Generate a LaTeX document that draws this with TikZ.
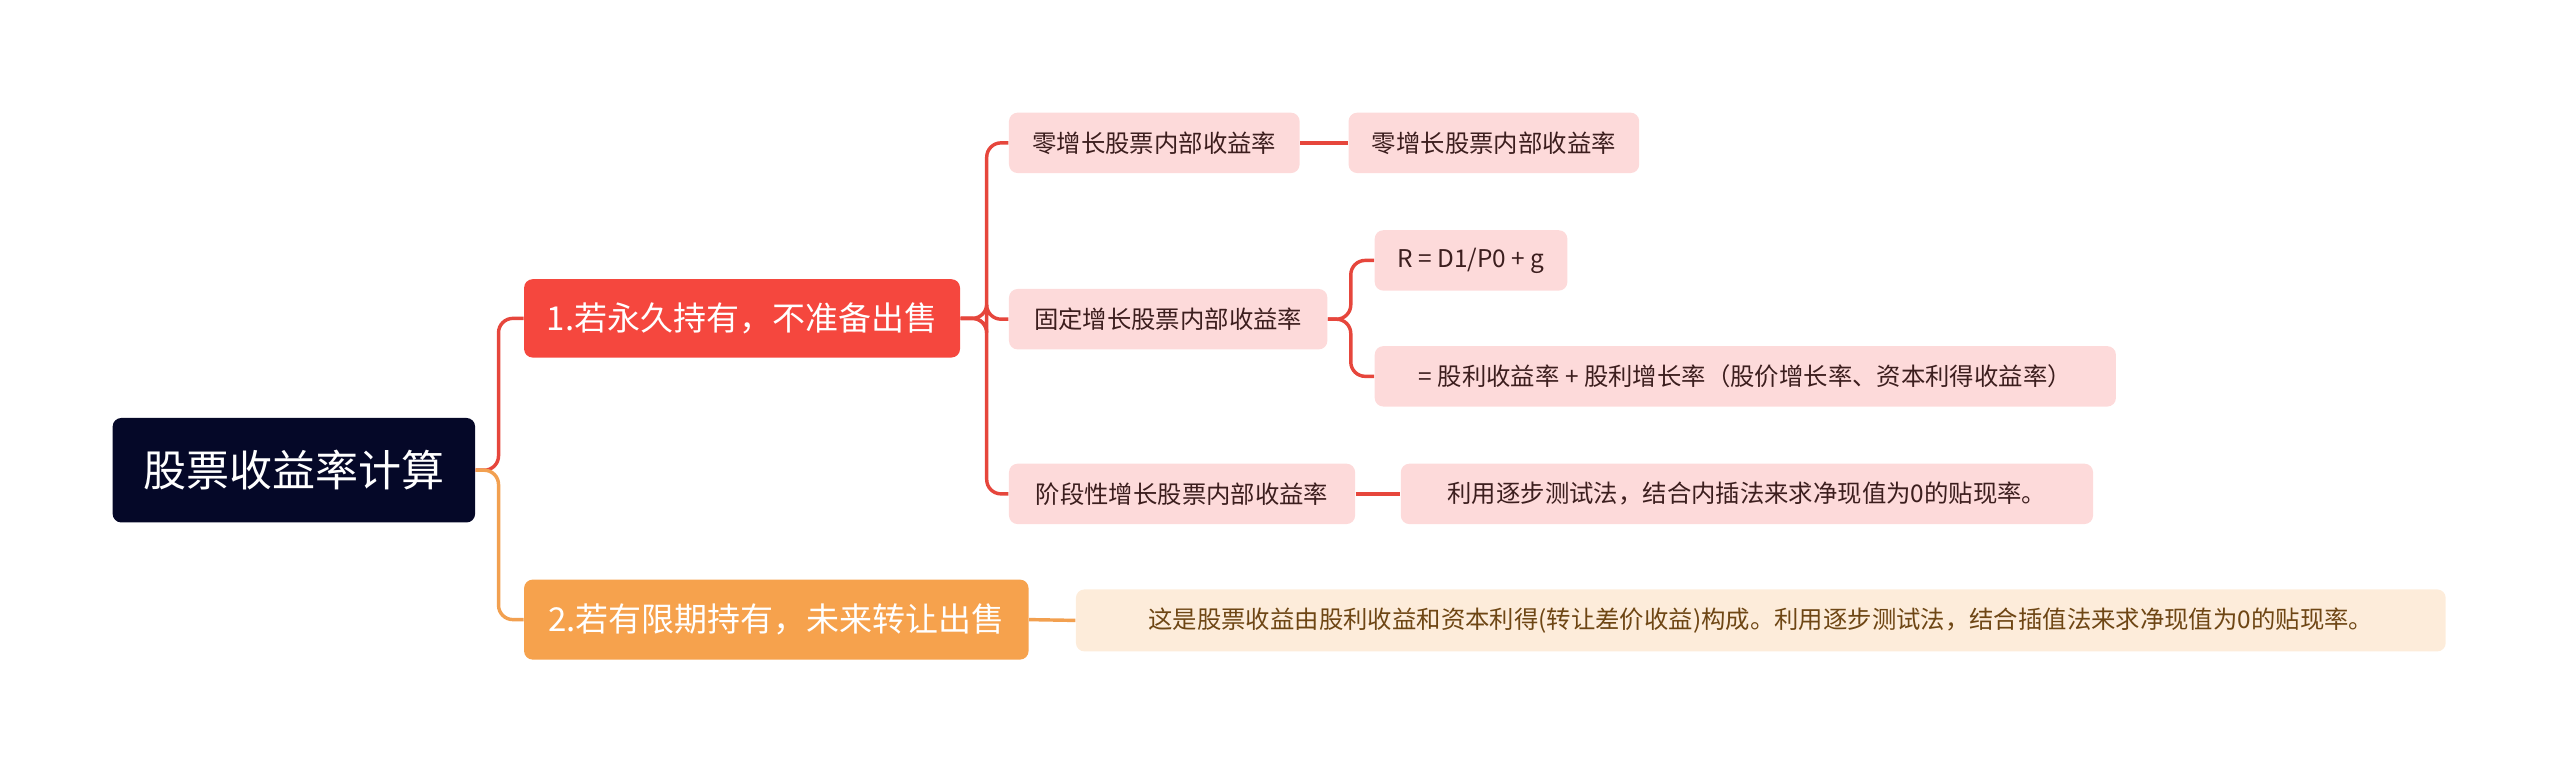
\documentclass[tikz,border=0pt]{standalone}
\usepackage{fontspec}
\setmainfont{Noto Sans CJK SC}
\usetikzlibrary{calc}
\definecolor{rootbg}{RGB}{5,8,40}
\definecolor{redbg}{RGB}{245,71,62}
\definecolor{orangebg}{RGB}{246,162,77}
\definecolor{pinkbg}{RGB}{253,218,218}
\definecolor{peachbg}{RGB}{253,236,218}
\definecolor{redline}{RGB}{230,70,60}
\definecolor{orangeline}{RGB}{242,160,80}
\definecolor{darktext}{RGB}{60,30,30}
\definecolor{browntext}{RGB}{110,70,20}
\tikzset{
  box/.style={rounded corners=3pt, inner sep=0pt, align=center},
  rootbox/.style={box, fill=rootbg, text=white, font=\fontsize{15}{18}\selectfont},
  mainbox/.style={box, text=white, font=\fontsize{11.5}{14}\selectfont},
  subbox/.style={box, fill=pinkbg, text=darktext, font=\fontsize{8.5}{10}\selectfont},
  link/.style={line width=1.2pt, rounded corners=5pt}
}
\begin{document}
\begin{tikzpicture}[x=0.02cm, y=-0.02cm]
    \useasboundingbox (0,0) rectangle (1568,474);

    \node[rootbox, minimum width=222*0.02cm, minimum height=64*0.02cm] (root) at (180,288) {股票收益率计算};

    \node[mainbox, fill=redbg, minimum width=267*0.02cm, minimum height=48*0.02cm] (keep) at (454.5,195) {1.若永久持有，不准备出售};
    \node[mainbox, fill=orangebg, minimum width=309*0.02cm, minimum height=49*0.02cm] (sell) at (475.5,379.5) {2.若有限期持有，未来转让出售};

    \node[subbox, minimum width=178*0.02cm, minimum height=37*0.02cm] (zero) at (707,87.5) {零增长股票内部收益率};
    \node[subbox, minimum width=178*0.02cm, minimum height=37*0.02cm] (zeroR) at (915,87.5) {零增长股票内部收益率};

    \node[subbox, minimum width=195*0.02cm, minimum height=37*0.02cm] (fixed) at (715.5,195.5) {固定增长股票内部收益率};
    \node[subbox, minimum width=118*0.02cm, minimum height=37*0.02cm] (fixedA) at (901,159.5) {R = D1/P0 + g};
    \node[subbox, minimum width=454*0.02cm, minimum height=37*0.02cm] (fixedB) at (1069,230.5) {= 股利收益率 + 股利增长率（股价增长率、资本利得收益率）};

    \node[subbox, minimum width=212*0.02cm, minimum height=37*0.02cm] (stage) at (724,302.5) {阶段性增长股票内部收益率};
    \node[subbox, minimum width=424*0.02cm, minimum height=37*0.02cm] (stageR) at (1070,302.5) {利用逐步测试法，结合内插法来求净现值为0的贴现率。};

    \node[subbox, fill=peachbg, text=browntext, minimum width=839*0.02cm, minimum height=38*0.02cm] (sellR) at (1078.5,380) {这是股票收益由股利收益和资本利得(转让差价收益)构成。利用逐步测试法，结合插值法来求净现值为0的贴现率。};

    % root branches
    \draw[link, redline] (root.east) -- ++(14,0) |- (keep.west);
    \draw[link, orangeline] (root.east) -- ++(14,0) |- (sell.west);

    % first branch
    \draw[link, redline] (keep.east) -- ++(16,0) |- (zero.west);
    \draw[link, redline] (keep.east) -- ++(16,0) |- (fixed.west);
    \draw[link, redline] (keep.east) -- ++(16,0) |- (stage.west);
    \draw[link, redline] (zero.east) -- (zeroR.west);
    \draw[link, redline] (fixed.east) -- ++(14,0) |- (fixedA.west);
    \draw[link, redline] (fixed.east) -- ++(14,0) |- (fixedB.west);
    \draw[link, redline] (stage.east) -- (stageR.west);

    % second branch
    \draw[link, orangeline] (sell.east) -- (sellR.west);
\end{tikzpicture}
\end{document}
